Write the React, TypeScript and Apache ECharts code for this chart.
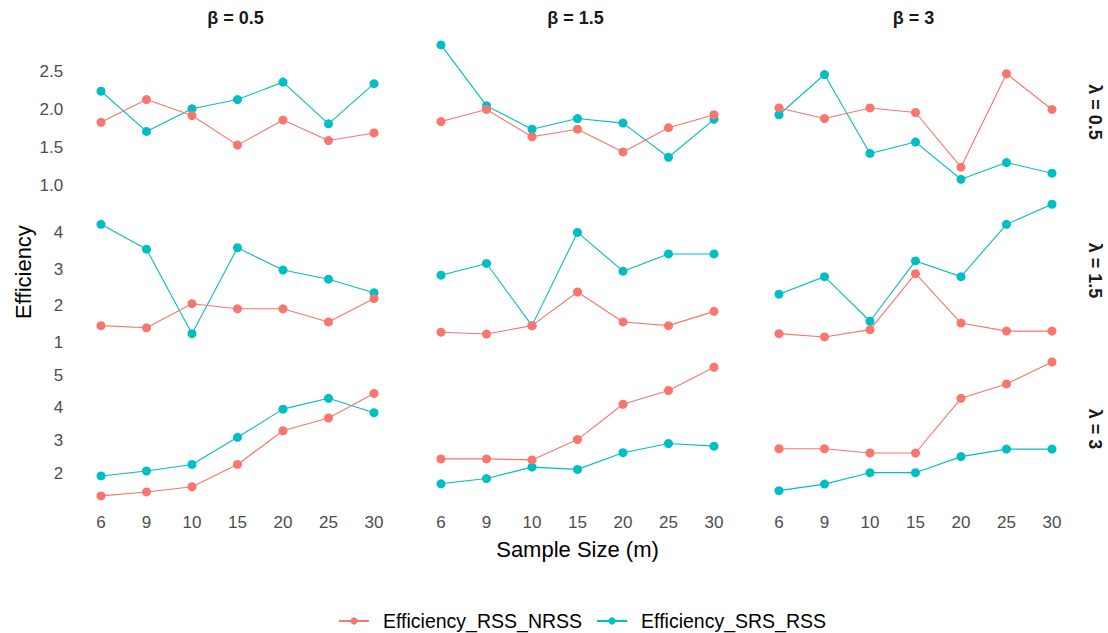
import React, { useEffect, useRef } from "react";
import * as echarts from "echarts";

// ---------- data ----------
const sampleSizes = ["6", "9", "10", "15", "20", "25", "30"];
const betaLabels = ["β = 0.5", "β = 1.5", "β = 3"];
const lambdaLabels = ["λ = 0.5", "λ = 1.5", "λ = 3"];
const seriesNames = ["Efficiency_RSS_NRSS", "Efficiency_SRS_RSS"];

// λ = 0.5
const rssNrss_l05_b05 = [1.83, 2.13, 1.92, 1.53, 1.86, 1.59, 1.69];
const srsRss_l05_b05 = [2.24, 1.71, 2.01, 2.13, 2.36, 1.81, 2.34];
const rssNrss_l05_b15 = [1.84, 2.0, 1.64, 1.74, 1.44, 1.76, 1.93];
const srsRss_l05_b15 = [2.85, 2.05, 1.74, 1.88, 1.82, 1.37, 1.87];
const rssNrss_l05_b3 = [2.02, 1.88, 2.02, 1.96, 1.24, 2.47, 2.0];
const srsRss_l05_b3 = [1.93, 2.46, 1.42, 1.57, 1.08, 1.3, 1.16];

// λ = 1.5
const rssNrss_l15_b05 = [1.46, 1.4, 2.06, 1.92, 1.92, 1.56, 2.2];
const srsRss_l15_b05 = [4.23, 3.55, 1.24, 3.59, 2.98, 2.73, 2.36];
const rssNrss_l15_b15 = [1.28, 1.23, 1.46, 2.38, 1.56, 1.46, 1.85];
const srsRss_l15_b15 = [2.84, 3.16, 1.46, 4.01, 2.95, 3.42, 3.42];
const rssNrss_l15_b3 = [1.24, 1.15, 1.35, 2.88, 1.53, 1.31, 1.31];
const srsRss_l15_b3 = [2.32, 2.8, 1.58, 3.23, 2.8, 4.23, 4.78];

// λ = 3
const rssNrss_l3_b05 = [1.31, 1.43, 1.59, 2.27, 3.3, 3.69, 4.44];
const srsRss_l3_b05 = [1.92, 2.07, 2.27, 3.1, 3.96, 4.29, 3.85];
const rssNrss_l3_b15 = [2.44, 2.44, 2.41, 3.03, 4.11, 4.53, 5.24];
const srsRss_l3_b15 = [1.68, 1.84, 2.19, 2.12, 2.63, 2.91, 2.83];
const rssNrss_l3_b3 = [2.75, 2.75, 2.62, 2.62, 4.29, 4.73, 5.4];
const srsRss_l3_b3 = [1.47, 1.67, 2.02, 2.02, 2.51, 2.74, 2.74];

const yTicksRow1 = [1.0, 1.5, 2.0, 2.5];
const yTicksRow2 = [1, 2, 3, 4];
const yTicksRow3 = [2, 3, 4, 5];

const panels = [
  [
    [rssNrss_l05_b05, srsRss_l05_b05],
    [rssNrss_l05_b15, srsRss_l05_b15],
    [rssNrss_l05_b3, srsRss_l05_b3],
  ],
  [
    [rssNrss_l15_b05, srsRss_l15_b05],
    [rssNrss_l15_b15, srsRss_l15_b15],
    [rssNrss_l15_b3, srsRss_l15_b3],
  ],
  [
    [rssNrss_l3_b05, srsRss_l3_b05],
    [rssNrss_l3_b15, srsRss_l3_b15],
    [rssNrss_l3_b3, srsRss_l3_b3],
  ],
];
const rowTicks = [yTicksRow1, yTicksRow2, yTicksRow3];

// ---------- layout ----------
const FONT = "'Liberation Sans', Arial, sans-serif";
const COLORS = ["#F8766D", "#00BFC4"];
const colLeft = [78.25, 418.25, 756.25];
const colWidth = 318.5;
const rowTop = [38.2, 197.6, 355.3];
const rowBottom = [186, 343.6, 502.6];

export default function App() {
  const ref = useRef<HTMLDivElement>(null);

  useEffect(() => {
    if (!ref.current) return;
    const chart = echarts.init(ref.current, undefined, { renderer: "svg" });

    const grids: any[] = [];
    const xAxes: any[] = [];
    const yAxes: any[] = [];
    const series: any[] = [];

    for (let r = 0; r < 3; r++) {
      const all = panels[r].flat(2) as number[];
      const dMin = Math.min(...all);
      const dMax = Math.max(...all);
      const pad = (dMax - dMin) * 0.05;
      const yMin = dMin - pad;
      const yMax = dMax + pad;
      for (let c = 0; c < 3; c++) {
        const idx = r * 3 + c;
        grids.push({
          left: colLeft[c],
          width: colWidth,
          top: rowTop[r],
          height: rowBottom[r] - rowTop[r],
          containLabel: false,
        });
        xAxes.push({
          type: "category",
          gridIndex: idx,
          data: sampleSizes,
          boundaryGap: true,
          axisLine: { show: false },
          axisTick: { show: false },
          splitLine: { show: false },
          axisLabel: {
            show: r === 2,
            interval: 0,
            margin: 11,
            fontSize: 17,
            color: "#4D4D4D",
            fontFamily: FONT,
          },
        });
        yAxes.push({
          type: "value",
          gridIndex: idx,
          min: yMin,
          max: yMax,
          axisLine: { show: false },
          axisTick: { show: false },
          splitLine: { show: false },
          axisLabel: {
            show: c === 0,
            customValues: rowTicks[r],
            margin: 15,
            fontSize: 17,
            color: "#4D4D4D",
            fontFamily: FONT,
            formatter: (v: number) => (r === 0 ? v.toFixed(1) : String(Math.round(v))),
          },
        });
        for (let s = 0; s < 2; s++) {
          series.push({
            type: "line",
            name: seriesNames[s],
            xAxisIndex: idx,
            yAxisIndex: idx,
            data: panels[r][c][s],
            symbol: "circle",
            symbolSize: 9,
            showSymbol: true,
            color: COLORS[s],
            lineStyle: { width: 1.1, color: COLORS[s] },
            itemStyle: { color: COLORS[s] },
            z: 2 + (1 - s),
          });
        }
      }
    }

    const graphics: any[] = [];
    for (let c = 0; c < 3; c++) {
      graphics.push({
        type: "text",
        x: colLeft[c] + colWidth / 2 - 2,
        y: 18,
        style: {
          text: betaLabels[c],
          font: `bold 18px ${FONT}`,
          fill: "#1A1A1A",
          textAlign: "center",
          textVerticalAlign: "middle",
          align: "center",
          verticalAlign: "middle",
        },
      });
    }
    for (let r = 0; r < 3; r++) {
      graphics.push({
        type: "text",
        x: 1095,
        y: (rowTop[r] + rowBottom[r]) / 2,
        rotation: -Math.PI / 2,
        style: {
          text: lambdaLabels[r],
          font: `bold 18px ${FONT}`,
          fill: "#1A1A1A",
          textAlign: "center",
          textVerticalAlign: "middle",
          align: "center",
          verticalAlign: "middle",
        },
      });
    }
    graphics.push({
      type: "text",
      x: 23,
      y: 272,
      rotation: Math.PI / 2,
      style: {
        text: "Efficiency",
        font: `22px ${FONT}`,
        fill: "#000000",
        textAlign: "center",
        textVerticalAlign: "middle",
        align: "center",
        verticalAlign: "middle",
      },
    });
    graphics.push({
      type: "text",
      x: 577.5,
      y: 549,
      style: {
        text: "Sample Size (m)",
        font: `22px ${FONT}`,
        fill: "#000000",
        textAlign: "center",
        textVerticalAlign: "middle",
        align: "center",
        verticalAlign: "middle",
      },
    });

    chart.setOption({
      animation: false,
      backgroundColor: "#FFFFFF",
      textStyle: { fontFamily: FONT },
      grid: grids,
      xAxis: xAxes,
      yAxis: yAxes,
      series,
      graphic: graphics,
      legend: {
        data: seriesNames,
        left: 333,
        top: 606,
        orient: "horizontal",
        itemWidth: 30,
        itemHeight: 9,
        itemGap: 14,
        textStyle: {
          fontSize: 19.5,
          color: "#000000",
          fontFamily: FONT,
          padding: [0, 0, 0, 9],
        },
      },
    });

    return () => chart.dispose();
  }, []);

  return (
    <div
      ref={ref}
      style={{ position: "fixed", left: 0, top: 0, width: 1108, height: 633, background: "#fff" }}
    />
  );
}
